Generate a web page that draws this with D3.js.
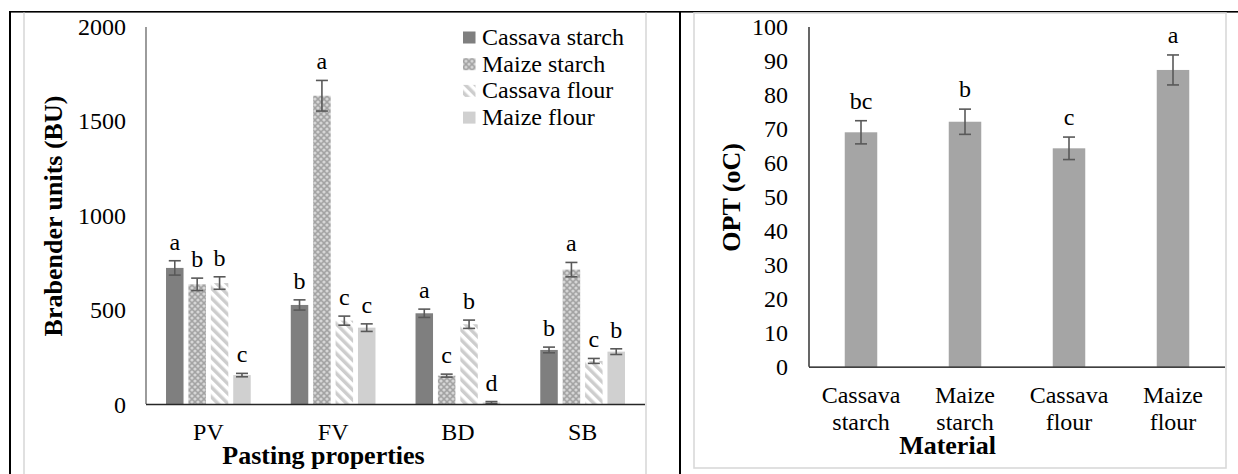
<!DOCTYPE html>
<html>
<head>
<meta charset="utf-8">
<script src="https://cdn.jsdelivr.net/npm/d3@7"></script>
<style>
  html, body { margin: 0; padding: 0; background: #fff; }
  svg { display: block; }
  text { font-family: "Liberation Serif", "Times New Roman", serif; fill: #000; }
</style>
</head>
<body>
<svg id="fig" width="1238" height="474"></svg>
<script>
// ---- Pasting properties (Brabender units) ----
const properties = ["PV", "FV", "BD", "SB"];
const materials = ["Cassava starch", "Maize starch", "Cassava flour", "Maize flour"];
const cassavaStarch = [720, 524, 480, 286];
const maizeStarch   = [633, 1631, 150, 711];
const cassavaFlour  = [640, 441, 422, 228];
const maizeFlour    = [153, 404, 8, 277];
const cassavaStarchErr = [38, 27, 22, 15];
const maizeStarchErr   = [33, 81, 8, 38];
const cassavaFlourErr  = [33, 24, 22, 13];
const maizeFlourErr    = [9, 20, 5, 15];
const cassavaStarchSig = ["a", "b", "a", "b"];
const maizeStarchSig   = ["b", "a", "c", "a"];
const cassavaFlourSig  = ["b", "c", "b", "c"];
const maizeFlourSig    = ["c", "c", "d", "b"];
const buTicks = [0, 500, 1000, 1500, 2000];

// ---- Onset pasting temperature ----
const optMaterials = [["Cassava", "starch"], ["Maize", "starch"], ["Cassava", "flour"], ["Maize", "flour"]];
const optValues = [68.8, 71.9, 64.1, 87.1];
const optErr = [3.4, 3.7, 3.3, 4.4];
const optSig = ["bc", "b", "c", "a"];
const optTicks = [0, 10, 20, 30, 40, 50, 60, 70, 80, 90, 100];

const svg = d3.select("#fig");
const defs = svg.append("defs");

// fills: solid, checker, diagonal stripe, solid light
const checker = defs.append("pattern").attr("id", "checker")
  .attr("patternUnits", "userSpaceOnUse").attr("width", 6).attr("height", 6);
checker.append("rect").attr("width", 6).attr("height", 6).attr("fill", "#a3a3a3");
[[0, 0], [6, 0], [0, 6], [6, 6], [3, 3]].forEach(([cx, cy]) =>
  checker.append("circle").attr("cx", cx).attr("cy", cy).attr("r", 1.6).attr("fill", "#d6d6d6"));

const stripes = defs.append("pattern").attr("id", "stripes")
  .attr("patternUnits", "userSpaceOnUse").attr("width", 7).attr("height", 7)
  .attr("patternTransform", "rotate(-45)");
stripes.append("rect").attr("width", 7).attr("height", 7).attr("fill", "#ffffff");
stripes.append("rect").attr("width", 3.5).attr("height", 7).attr("fill", "#cdcdcd");

const seriesFill = ["#7f7f7f", "url(#checker)", "url(#stripes)", "#d0d0d0"];
const seriesValues = [cassavaStarch, maizeStarch, cassavaFlour, maizeFlour];
const seriesErr = [cassavaStarchErr, maizeStarchErr, cassavaFlourErr, maizeFlourErr];
const seriesSig = [cassavaStarchSig, maizeStarchSig, cassavaFlourSig, maizeFlourSig];

// ---- table frame ----
const frame = svg.append("g");
frame.append("rect").attr("x", 9).attr("y", 11).attr("width", 1229).attr("height", 1.6).attr("fill", "#000");
frame.append("rect").attr("x", 9).attr("y", 11).attr("width", 2).attr("height", 463).attr("fill", "#000");
frame.append("rect").attr("x", 679).attr("y", 11).attr("width", 2).attr("height", 463).attr("fill", "#000");
// chart borders
frame.append("line").attr("x1", 24).attr("x2", 24).attr("y1", 12.5).attr("y2", 474)
  .attr("stroke", "#d9d9d9").attr("stroke-width", 1.6);
frame.append("line").attr("x1", 646).attr("x2", 646).attr("y1", 12.5).attr("y2", 474)
  .attr("stroke", "#d9d9d9").attr("stroke-width", 1.6);
frame.append("rect").attr("x", 694).attr("y", 13).attr("width", 532).attr("height", 455)
  .attr("fill", "none").attr("stroke", "#d9d9d9").attr("stroke-width", 1.6);

// ================= Left chart =================
const L = { left: 146, right: 645, top: 26, bottom: 404 };
const xL = d3.scaleBand().domain(properties).range([L.left, L.right]);
const yL = d3.scaleLinear().domain([0, 2000]).range([L.bottom, L.top]);
const barW = 17.5, step = 22.4;
const groupW = step * 3 + barW;
const xSeries = d3.scaleLinear().domain([0, 3]).range([0, step * 3]);

const gL = svg.append("g");
gL.append("g").attr("transform", `translate(${L.left - 20},0)`)
  .call(d3.axisLeft(yL).tickValues(buTicks).tickSize(0).tickPadding(0).tickFormat(d3.format("d")))
  .call(g => g.select(".domain").remove())
  .call(g => g.selectAll("text").attr("font-size", 24).attr("dy", "0.34em")
    .style("font-family", "Liberation Serif"));

gL.append("line").attr("x1", L.left).attr("x2", L.left).attr("y1", L.top + 1).attr("y2", L.bottom)
  .attr("stroke", "#595959").attr("stroke-width", 1.2);

seriesValues.forEach((vals, s) => {
  const g = gL.append("g");
  properties.forEach((p, i) => {
    const cx0 = xL(p) + xL.bandwidth() / 2 - groupW / 2 + xSeries(s);
    const cx = cx0 + barW / 2;
    g.append("rect").attr("x", cx0).attr("width", barW)
      .attr("y", yL(vals[i])).attr("height", yL(0) - yL(vals[i]))
      .attr("fill", seriesFill[s]);
    const e = seriesErr[s][i];
    const yHi = yL(vals[i] + e), yLo = yL(Math.max(0, vals[i] - e));
    const eb = g.append("g").attr("stroke", "#595959").attr("stroke-width", 1.6);
    eb.append("line").attr("x1", cx).attr("x2", cx).attr("y1", yHi).attr("y2", yLo);
    eb.append("line").attr("x1", cx - 6).attr("x2", cx + 6).attr("y1", yHi).attr("y2", yHi);
    eb.append("line").attr("x1", cx - 6).attr("x2", cx + 6).attr("y1", yLo).attr("y2", yLo);
    g.append("text").attr("x", cx).attr("y", yHi - 11).attr("text-anchor", "middle")
      .attr("font-size", 24).text(seriesSig[s][i]);
  });
});

gL.append("line").attr("x1", L.left).attr("x2", L.right).attr("y1", L.bottom + 0.5).attr("y2", L.bottom + 0.5)
  .attr("stroke", "#262626").attr("stroke-width", 1.3);

gL.append("g").attr("transform", `translate(0,${L.bottom})`)
  .call(d3.axisBottom(xL).tickSize(0).tickPadding(0))
  .call(g => g.select(".domain").remove())
  .call(g => g.selectAll("text").attr("font-size", 24).attr("dy", null).attr("y", 35.5)
    .style("font-family", "Liberation Serif"));

gL.append("text").attr("x", 323.5).attr("y", 463.5).attr("text-anchor", "middle")
  .attr("font-size", 26).attr("font-weight", "bold").text("Pasting properties");
gL.append("text").attr("transform", `translate(61.5,${(L.top + L.bottom) / 2 + 1}) rotate(-90)`)
  .attr("text-anchor", "middle").attr("font-size", 26).attr("font-weight", "bold")
  .text("Brabender units (BU)");

// legend
const legend = gL.append("g").attr("transform", "translate(463,31.5)");
materials.forEach((m, i) => {
  const row = legend.append("g").attr("transform", `translate(0,${i * 26.7})`);
  row.append("rect").attr("width", 12.5).attr("height", 12).attr("fill", seriesFill[i]);
  row.append("text").attr("x", 19).attr("y", 13.5).attr("font-size", 24).text(m);
});

// ================= Right chart =================
const R = { left: 809, right: 1225, top: 26, bottom: 366.7 };
const xR = d3.scaleBand().domain(optMaterials.map(d => d.join(" "))).range([R.left, R.right]);
const yR = d3.scaleLinear().domain([0, 100]).range([R.bottom, R.top]);
const barWR = 32.5;

const gR = svg.append("g");
gR.append("g").attr("transform", `translate(${R.left - 21},0)`)
  .call(d3.axisLeft(yR).tickValues(optTicks).tickSize(0).tickPadding(0))
  .call(g => g.select(".domain").remove())
  .call(g => g.selectAll("text").attr("font-size", 24).attr("dy", "0.34em")
    .style("font-family", "Liberation Serif"));

gR.append("line").attr("x1", R.left).attr("x2", R.left).attr("y1", R.top + 1).attr("y2", R.bottom)
  .attr("stroke", "#000").attr("stroke-width", 1.2);

optValues.forEach((v, i) => {
  const key = optMaterials[i].join(" ");
  const cx = xR(key) + xR.bandwidth() / 2;
  gR.append("rect").attr("x", cx - barWR / 2).attr("width", barWR)
    .attr("y", yR(v)).attr("height", yR(0) - yR(v)).attr("fill", "#a5a5a5");
  const yHi = yR(v + optErr[i]), yLo = yR(v - optErr[i]);
  const eb = gR.append("g").attr("stroke", "#595959").attr("stroke-width", 1.6);
  eb.append("line").attr("x1", cx).attr("x2", cx).attr("y1", yHi).attr("y2", yLo);
  eb.append("line").attr("x1", cx - 6).attr("x2", cx + 6).attr("y1", yHi).attr("y2", yHi);
  eb.append("line").attr("x1", cx - 6).attr("x2", cx + 6).attr("y1", yLo).attr("y2", yLo);
  gR.append("text").attr("x", cx).attr("y", yHi - 12).attr("text-anchor", "middle")
    .attr("font-size", 24).text(optSig[i]);
  optMaterials[i].forEach((line, j) => {
    gR.append("text").attr("x", cx).attr("y", 403 + j * 27).attr("text-anchor", "middle")
      .attr("font-size", 24).text(line);
  });
});

gR.append("line").attr("x1", R.left).attr("x2", R.right).attr("y1", R.bottom + 0.5).attr("y2", R.bottom + 0.5)
  .attr("stroke", "#000").attr("stroke-width", 1.3);

gR.append("text").attr("x", 947.5).attr("y", 453.5).attr("text-anchor", "middle")
  .attr("font-size", 26).attr("font-weight", "bold").text("Material");
gR.append("text").attr("transform", `translate(740,${(R.top + R.bottom) / 2 + 1}) rotate(-90)`)
  .attr("text-anchor", "middle").attr("font-size", 26).attr("font-weight", "bold")
  .text("OPT (oC)");
</script>
</body>
</html>
